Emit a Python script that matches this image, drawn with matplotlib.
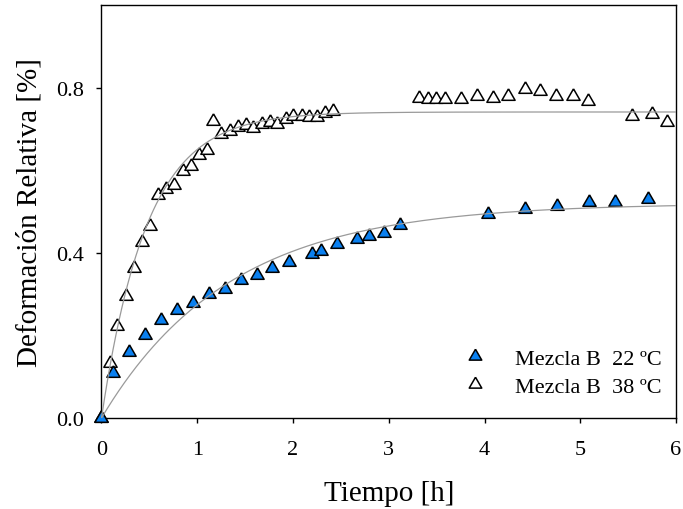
import numpy as np
import matplotlib
matplotlib.use("Agg")
import matplotlib.pyplot as plt

plt.rcParams['font.family'] = ['Liberation Serif', 'DejaVu Serif']

# Mezcla B, 22 ºC
t_22 = [0.0, 0.117, 0.287, 0.457, 0.618, 0.785, 0.952, 1.120, 1.287, 1.457,
        1.621, 1.781, 1.955, 2.202, 2.289, 2.456, 2.672, 2.791, 2.954, 3.117,
        4.037, 4.426, 4.754, 5.088, 5.366, 5.704]
d_22 = [0.0, 0.108, 0.159, 0.201, 0.238, 0.261, 0.278, 0.300, 0.312, 0.333,
        0.346, 0.363, 0.378, 0.397, 0.404, 0.422, 0.433, 0.441, 0.449, 0.468,
        0.495, 0.506, 0.514, 0.524, 0.524, 0.531]

# Mezcla B, 38 ºC
t_38 = [0.0, 0.086, 0.167, 0.253, 0.336, 0.423, 0.510, 0.585, 0.672, 0.759,
        0.846, 0.933, 1.015, 1.100, 1.162, 1.248, 1.338, 1.423, 1.506, 1.585,
        1.673, 1.760, 1.838, 1.927, 2.003, 2.091, 2.170, 2.251, 2.334, 2.421,
        3.319, 3.413, 3.493, 3.587, 3.751, 3.919, 4.086, 4.249, 4.423, 4.580,
        4.747, 4.921, 5.084, 5.537, 5.746, 5.909]
d_38 = [0.0, 0.133, 0.223, 0.296, 0.364, 0.426, 0.465, 0.541, 0.554, 0.564,
        0.599, 0.611, 0.637, 0.650, 0.718, 0.687, 0.696, 0.704, 0.710, 0.703,
        0.713, 0.717, 0.713, 0.724, 0.731, 0.731, 0.729, 0.729, 0.738, 0.743,
        0.776, 0.772, 0.772, 0.772, 0.773, 0.780, 0.774, 0.780, 0.797, 0.793,
        0.780, 0.780, 0.768, 0.732, 0.736, 0.717]

# Fitted exponential curves: D(t) = A * (1 - exp(-k t))
A_22, k_22 = 0.520, 0.75
A_38, k_38 = 0.741, 2.10

labels = ["Mezcla B  22 ºC", "Mezcla B  38 ºC"]
x_ticks = [0, 1, 2, 3, 4, 5, 6]
y_ticks = [0.0, 0.4, 0.8]
y_tick_labels = ["0.0", "0.4", "0.8"]

# equilateral triangle marker centred on its centroid
tri = [(0.0, 1.0), (-0.866, -0.5), (0.866, -0.5), (0.0, 1.0)]

fig = plt.figure(figsize=(6.83, 5.10), dpi=100)
ax = fig.add_axes([0.1486, 0.1784, 0.8412, 0.8098])

tt = np.linspace(0, 6, 400)
ax.plot(tt, A_22 * (1 - np.exp(-k_22 * tt)), color='#9a9a9a', lw=0.9, zorder=4)
ax.plot(tt, A_38 * (1 - np.exp(-k_38 * tt)), color='#9a9a9a', lw=0.9, zorder=4)

h38, = ax.plot(t_38, d_38, linestyle='none', marker=tri, markersize=11,
               markerfacecolor='white', markeredgecolor='black',
               markeredgewidth=1.1, zorder=2, clip_on=False)
h22, = ax.plot(t_22, d_22, linestyle='none', marker=tri, markersize=11,
               markerfacecolor='#0a80f0', markeredgecolor='black',
               markeredgewidth=1.1, zorder=3, clip_on=False)

ax.set_xlim(0, 6)
ax.set_ylim(0, 1.0)
ax.set_xticks(x_ticks)
ax.set_yticks(y_ticks)
ax.set_yticklabels(y_tick_labels)
ax.tick_params(axis='both', which='major', direction='out', length=3.5,
               width=1.0, labelsize=16, colors='black')
ax.tick_params(axis='x', pad=12.5)
ax.tick_params(axis='y', pad=9)
for s in ax.spines.values():
    s.set_linewidth(1.0)
    s.set_color('black')

ax.set_xlabel("Tiempo [h]", fontsize=21, labelpad=15)
ax.set_ylabel("Deformación Relativa [%]", fontsize=21, labelpad=10)

leg = ax.legend([h22, h38], labels, loc='center left',
                bbox_to_anchor=(453 / 683, (510 - 373.5) / 510),
                bbox_transform=fig.transFigure, frameon=False, fontsize=16,
                handlelength=2.0, handletextpad=0.8, labelspacing=0.35,
                borderpad=0, borderaxespad=0, markerscale=0.95)

fig.savefig("out.png", dpi=100)
